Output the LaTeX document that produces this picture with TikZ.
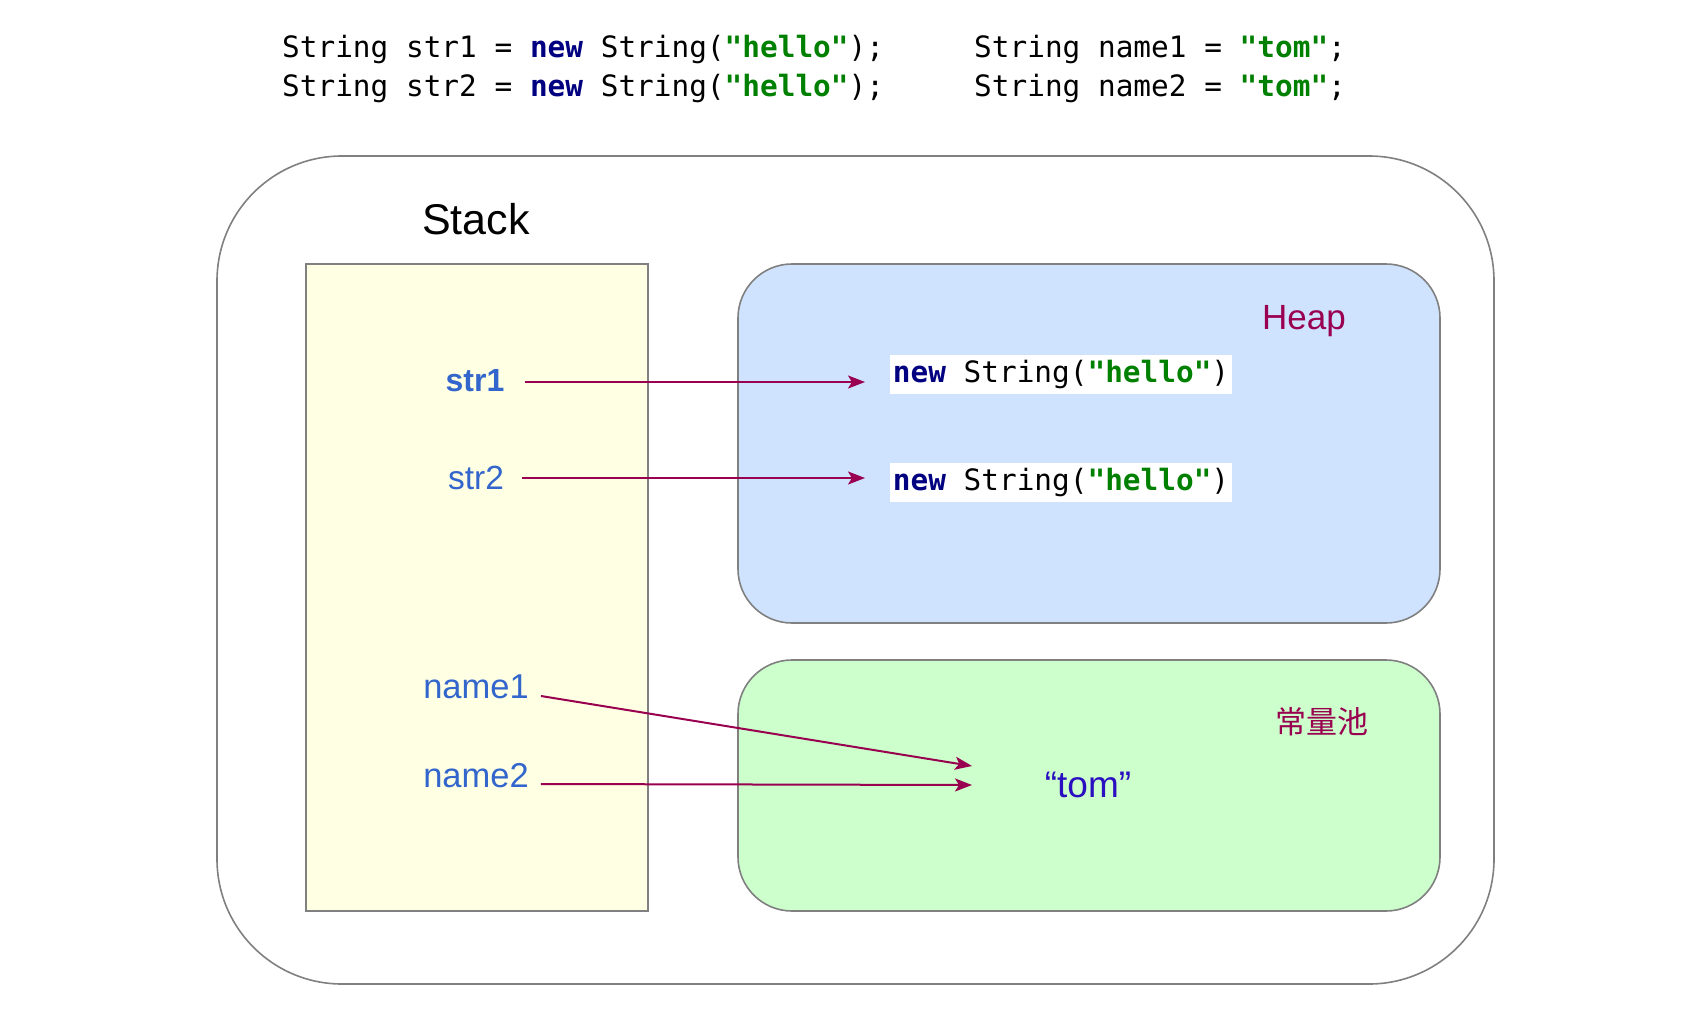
\documentclass[tikz,border=0pt]{standalone}
\usepackage{fontspec}
\setmainfont{Liberation Sans}
\setmonofont{DejaVu Sans Mono}
\newfontfamily\cjk{Noto Sans CJK SC}
\usetikzlibrary{arrows.meta}
\definecolor{boxgray}{HTML}{808080}
\definecolor{stackfill}{HTML}{FFFFE3}
\definecolor{heapfill}{HTML}{CFE3FF}
\definecolor{poolfill}{HTML}{CCFFCC}
\definecolor{lblblue}{HTML}{3366CC}
\definecolor{maroon}{HTML}{990050}
\definecolor{tomblue}{HTML}{2A0FC0}
\definecolor{kwnavy}{HTML}{000080}
\definecolor{strgreen}{HTML}{008000}
\newcommand\jkw[1]{{\bfseries\color{kwnavy}#1}}
\newcommand\jstr[1]{{\bfseries\color{strgreen}#1}}
\begin{document}
\begin{tikzpicture}[x=1pt,y=-1pt,
  frame/.style={draw=boxgray,line width=1.6pt},
  code/.style={font=\ttfamily\fontsize{29.4}{34}\selectfont,inner sep=0pt,anchor=west},
  heapcode/.style={font=\ttfamily\fontsize{29.4}{34}\selectfont,fill=white,inner xsep=3pt,inner ysep=0pt,minimum height=39pt},
  varlbl/.style={font=\fontsize{34.5}{40}\selectfont,text=lblblue,inner sep=0pt},
  ptr/.style={draw=maroon,line width=2pt,-{Stealth[length=17pt,width=13pt,inset=4pt]}}]
\useasboundingbox (0,0) rectangle (1682,1012);
\fill[white] (0,0) rectangle (1682,1012);
% code
\node[code] (c1) at (282,49) {String str1 = \jkw{new} String(\jstr{"hello"});};
\node[code] (c2) at (282,88) {String str2 = \jkw{new} String(\jstr{"hello"});};
\node[code] (c3) at (974,49) {String name1 = \jstr{"tom"};};
\node[code] (c4) at (974,88) {String name2 = \jstr{"tom"};};
% outer
\draw[frame,rounded corners=125pt] (217,156) rectangle (1494,984);
\node[font=\fontsize{43}{48}\selectfont,inner sep=0pt] (stacklbl) at (476,219) {Stack};
% stack
\draw[frame,fill=stackfill] (306,264) rectangle (648,911);
% heap
\draw[frame,fill=heapfill,rounded corners=54pt] (738,264) rectangle (1440,623);
\node[font=\fontsize{35}{40}\selectfont,text=maroon,inner sep=0pt] (heaplbl) at (1304,321) {Heap};
% pool
\draw[frame,fill=poolfill,rounded corners=54pt] (738,660) rectangle (1440,911);
\node[font=\cjk\fontsize{31}{36}\selectfont,text=maroon,inner sep=0pt] (poollbl) at (1322,722) {常量池};
% heap objects
\node[heapcode] (h1) at (1061,374) {\jkw{new} String(\jstr{"hello"})};
\node[heapcode] (h2) at (1061,482) {\jkw{new} String(\jstr{"hello"})};
\node[font=\fontsize{37}{42}\selectfont,text=tomblue,inner sep=0pt] (tom) at (1088,785) {“tom”};
% variables
\node[varlbl,font=\bfseries\fontsize{32}{38}\selectfont] (str1) at (475,381) {str1};
\node[varlbl,font=\fontsize{33.5}{38}\selectfont] (str2) at (476,478) {str2};
\node[varlbl] (name1) at (476,687) {name1};
\node[varlbl] (name2) at (476,776) {name2};
% arrow ends
\coordinate (e1) at (865,382);
\coordinate (e2) at (865,478);
\coordinate (e3) at (972,766);
\coordinate (e4) at (972,785);
\draw[ptr] (str1.east |- e1) ++(20,0) -- (e1);
\draw[ptr] (str2.east |- e2) ++(18,0) -- (e2);
\draw[ptr] ([xshift=12pt,yshift=-9pt]name1.east) -- (e3);
\draw[ptr] ([xshift=12pt,yshift=-8pt]name2.east) -- (e4);
\end{tikzpicture}
\end{document}
